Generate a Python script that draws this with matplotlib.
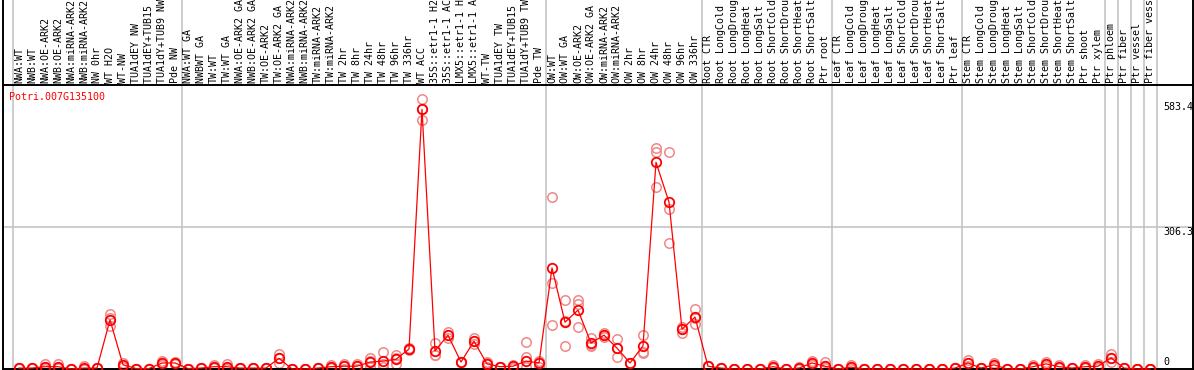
import matplotlib
matplotlib.use('Agg')
import matplotlib.pyplot as plt

gene = 'Potri.007G135100'

labels = [
    'NWA:WT', 'NWB:WT', 'NWA:OE-ARK2', 'NWB:OE-ARK2', 'NWA:miRNA-ARK2', 'NWB:miRNA-ARK2',
    'NW 0hr', 'WT H2O', 'WT-NW', 'TUA1dEY NW', 'TUA1dEY+TUB15 NW', 'TUA1dY+TUB9 NW', 'Pde NW',
    'NWA:WT GA', 'NWBWT GA', 'TW:WT', 'TW:WT GA', 'NWA:OE-ARK2 GA', 'NWB:OE-ARK2 GA',
    'TW:OE-ARK2', 'TW:OE-ARK2 GA', 'NWA:miRNA-ARK2 GA', 'NWB:miRNA-ARK2 GA', 'TW:miRNA-ARK2',
    'TW:miRNA-ARK2 GA', 'TW 2hr', 'TW 8hr', 'TW 24hr', 'TW 48hr', 'TW 96hr', 'TW 336hr', 'WT ACC',
    '35S::etr1-1 H2O', '35S::etr1-1 ACC', 'LMX5::etr1-1 H2O', 'LMX5::etr1-1 ACC', 'WT-TW',
    'TUA1dEY TW', 'TUA1dEY+TUB15 TW', 'TUA1dY+TUB9 TW', 'Pde TW',
    'OW:WT', 'OW:WT GA', 'OW:OE-ARK2', 'OW:OE-ARK2 GA', 'OW:miRNA-ARK2', 'OW:miRNA-ARK2 GA',
    'OW 2hr', 'OW 8hr', 'OW 24hr', 'OW 48hr', 'OW 96hr', 'OW 336hr',
    'Root CTR', 'Root LongCold', 'Root LongDrought', 'Root LongHeat', 'Root LongSalt',
    'Root ShortCold', 'Root ShortDrought', 'Root ShortHeat', 'Root ShortSalt', 'Ptr root',
    'Leaf CTR', 'Leaf LongCold', 'Leaf LongDrought', 'Leaf LongHeat', 'Leaf LongSalt',
    'Leaf ShortCold', 'Leaf ShortDrought', 'Leaf ShortHeat', 'Leaf ShortSalt', 'Ptr leaf',
    'Stem CTR', 'Stem LongCold', 'Stem LongDrought', 'Stem LongHeat', 'Stem LongSalt',
    'Stem ShortCold', 'Stem ShortDrought', 'Stem ShortHeat', 'Stem ShortSalt', 'Ptr shoot',
    'Ptr xylem', 'Ptr phloem', 'Ptr fiber', 'Ptr vessel', 'Ptr fiber vessel',
]

# mean expression per sample
means = [
    2, 2, 5, 5, 0, 2, 2, 106, 9, 1, 1, 13, 13,
    1, 2, 5, 5, 2, 2, 2, 23, 0, 0, 2, 5, 6, 6, 15, 17, 21, 43, 560,
    39, 73, 15, 60, 11, 5, 6, 17, 13,
    218, 101, 127, 56, 73, 45, 13, 50, 446, 360, 86, 112,
    6, 2, 0, 0, 0, 5, 0, 2, 13, 6,
    0, 4, 0, 0, 0, 0, 0, 0, 0, 2,
    13, 2, 9, 0, 0, 5, 11, 5, 2, 5, 6,
    24, 2, 0, 0,
]

# individual replicates
rep1 = [
    2, 2, 11, 11, 0, 6, 2, 119, 13, 1, 1, 17, 15,
    1, 2, 8, 11, 2, 2, 2, 32, 0, 0, 2, 8, 11, 11, 23, 36, 30, 45, 583.4,
    56, 80, 15, 67, 15, 5, 8, 58, 17,
    371, 149, 149, 67, 77, 65, 13, 73, 477, 468, 91, 129,
    6, 2, 0, 0, 0, 8, 0, 5, 17, 15,
    0, 8, 0, 0, 0, 0, 0, 0, 0, 2,
    19, 2, 13, 0, 0, 8, 15, 8, 2, 8, 11,
    32, 2, 0, 0,
]
rep2 = [
    2, 2, 4, 3, 0, 0, 2, 110, 9, 1, 1, 13, 13,
    1, 2, 5, 3, 2, 2, 2, 24, 0, 0, 2, 5, 6, 6, 17, 10, 23, 43, 560,
    30, 73, 15, 60, 13, 5, 6, 26, 15,
    186, 104, 140, 52, 73, 45, 13, 37, 468, 345, 86, 110,
    6, 2, 0, 0, 0, 5, 0, 2, 13, 6,
    0, 4, 0, 0, 0, 0, 0, 0, 0, 2,
    13, 2, 9, 0, 0, 5, 11, 5, 2, 5, 6,
    24, 2, 0, 0,
]
rep3 = [
    2, 2, 1, 2, 0, 0, 2, 92, 5, 1, 1, 9, 11,
    1, 2, 2, 1, 2, 2, 2, 13, 0, 0, 2, 2, 1, 1, 5, 5, 11, 41, 537,
    31, 67, 15, 53, 5, 5, 2, 5, 5,
    95, 50, 91, 50, 68, 26, 13, 34, 393, 272, 78, 97,
    6, 2, 0, 0, 0, 2, 0, 0, 9, 2,
    0, 0, 0, 0, 0, 0, 0, 0, 0, 2,
    7, 2, 5, 0, 0, 2, 7, 2, 2, 2, 2,
    15, 2, 0, 0,
]

# group separators (between samples)
separators = [-0.5, 12.5, 40.5, 52.5, 62.5, 72.5, 83.5, 84.5, 85.5, 86.5, 87.5]
ymax_label = 583.4
ymid_label = 306.3

plt.rcParams['font.family'] = 'DejaVu Sans Mono'
fs = 7.2

W, H = 1194, 370
fig = plt.figure(figsize=(W / 100, H / 100), dpi=100)
# plot area: x 3..1193 px, y 85..369 px
ax = fig.add_axes([3 / W, 1 / H, 1190 / W, 284 / H])

x = list(range(len(labels)))
step = 13.0
ax.set_xlim((3 - 19) / step, (1193 - 19) / step)
ax.set_ylim(0, 2 * ymid_label)

red = '#ff0000'
pink = '#f08888'

for sep in separators:
    ax.axvline(sep, ymin=0, ymax=1.32, color='#c0c0c0', lw=1.1, clip_on=False, zorder=1)
ax.axhline(ymid_label, color='#c0c0c0', lw=1.1, zorder=1)

for r in (rep1, rep2, rep3):
    ax.plot(x, r, ls='none', marker='o', ms=6.8, mfc='none', mec=pink, mew=1.1,
            clip_on=False, zorder=2)
ax.plot(x, means, color=red, lw=0.9, zorder=3, clip_on=False)
ax.plot(x, means, ls='none', marker='o', ms=6.8, mfc='none', mec=red, mew=1.3,
        clip_on=False, zorder=4)

# sample names above the plot (clipped by the top edge, as in the original)
ax.xaxis.tick_top()
ax.set_xticks(x)
ax.set_xticklabels(labels, rotation=90, fontsize=fs, va='bottom', ha='center')
ax.tick_params(axis='x', length=0, pad=1.5)
ax.set_yticks([])

for s in ax.spines.values():
    s.set_color('black')
    s.set_linewidth(1.4)
# extend left/right borders up through the label area
for xa in (0, 1):
    ax.plot([xa, xa], [1, 1.32], transform=ax.transAxes, color='black', lw=1.4, clip_on=False)

# value labels on the right
tx = (1163 - 19) / step
ax.text(tx, ymax_label - 8, '583.4', fontsize=fs, va='top', ha='left')
ax.text(tx, ymid_label, '306.3', fontsize=fs, va='top', ha='left')
ax.text(tx, 4, '0', fontsize=fs, va='bottom', ha='left')

ax.text((9 - 19) / step, (369 - 97) * 2 * ymid_label / 284, gene, fontsize=fs,
        color=red, va='center', ha='left')

fig.savefig('out.png', dpi=100)
